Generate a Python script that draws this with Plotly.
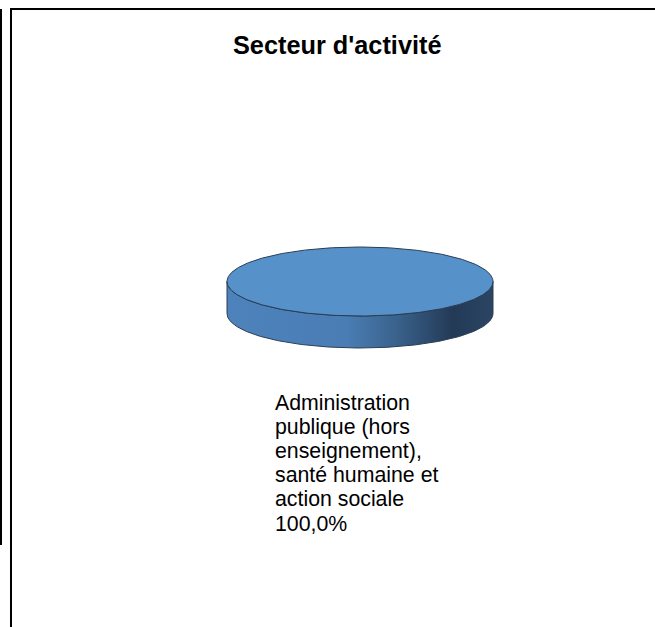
import textwrap
import numpy as np
import plotly.graph_objects as go

# ---- data ----
title_text = "Secteur d'activité"
categories = ["Administration publique (hors enseignement), santé humaine et action sociale"]
values = [100.0]

# ---- geometry / style (pixel space) ----
W, H = 655, 627
CX, CY = 360.0, 281.5
RX, RY = 133.0, 34.5
DEPTH = 32.0
TOP_COLOR = "#5691ca"
EDGE_COLOR = "#2a3d55"
FONT = "Arial, Liberation Sans, sans-serif"

fig = go.Figure()

total = sum(values)
start = 0.0
for cat, val in zip(categories, values):
    frac = val / total
    a0, a1 = start, start + frac * 2 * np.pi
    start = a1
    # side wall: only the front half (screen angles 0..pi, y down)
    s0, s1 = max(a0, 0.0), min(a1, np.pi)
    if s1 > s0:
        t = np.linspace(s0, s1, 200)
        xs = np.concatenate([CX + RX * np.cos(t), CX + RX * np.cos(t[::-1])])
        ys = np.concatenate([CY + RY * np.sin(t), CY + DEPTH + RY * np.sin(t[::-1])])
        xs = np.append(xs, xs[0]); ys = np.append(ys, ys[0])
        fig.add_trace(go.Scatter(
            x=xs, y=ys, mode="lines", fill="toself",
            fillgradient=dict(type="horizontal",
                              colorscale=[[0.0, "#4d82bb"], [0.45, "#4a7db4"],
                                          [0.62, "#3b6590"], [0.85, "#233a56"],
                                          [1.0, "#2a4563"]]),
            line=dict(color=EDGE_COLOR, width=1),
            hoverinfo="skip", showlegend=False))
    # top face
    t = np.linspace(a0, a1, 400)
    xs = CX + RX * np.cos(t)
    ys = CY + RY * np.sin(t)
    if frac < 1.0:
        xs = np.concatenate([[CX], xs, [CX]]); ys = np.concatenate([[CY], ys, [CY]])
    fig.add_trace(go.Scatter(
        x=xs, y=ys, mode="lines", fill="toself", fillcolor=TOP_COLOR,
        line=dict(color=EDGE_COLOR, width=1),
        hoverinfo="skip", showlegend=False))

    # data label (left aligned, below the pie)
    pct = f"{frac * 100:.1f}".replace(".", ",") + "%"
    lines = textwrap.wrap(cat, 16) + [pct]
    for i, ln in enumerate(lines):
        fig.add_annotation(x=273, y=410 + i * 24.2 - 7.5, text=ln, showarrow=False,
                           xanchor="left", yanchor="middle", xref="x", yref="y",
                           font=dict(family=FONT, size=21.3, color="#000000"))

# title
fig.add_annotation(x=337, y=45, text=f"<b>{title_text}</b>", showarrow=False,
                   xanchor="center", yanchor="middle", xref="x", yref="y",
                   font=dict(family=FONT, size=25.3, color="#000000"))

# frame lines
fig.add_shape(type="line", x0=1, x1=1, y0=9, y1=545, xref="x", yref="y",
              line=dict(color="#000000", width=2))
fig.add_shape(type="line", x0=11, x1=11, y0=8, y1=640, xref="x", yref="y",
              line=dict(color="#000000", width=2))
fig.add_shape(type="line", x0=10, x1=660, y0=9, y1=9, xref="x", yref="y",
              line=dict(color="#000000", width=2))

fig.update_layout(
    width=W, height=H, margin=dict(l=0, r=0, t=0, b=0),
    paper_bgcolor="white", plot_bgcolor="white",
    xaxis=dict(range=[0, W], visible=False, fixedrange=True),
    yaxis=dict(range=[H, 0], visible=False, fixedrange=True),
    showlegend=False,
)
fig.write_html("out.html", config={"displayModeBar": False},
               post_script="document.body.style.margin='0px';")
